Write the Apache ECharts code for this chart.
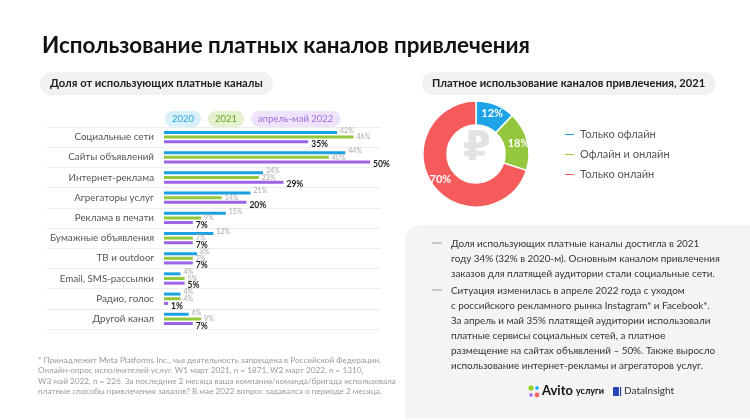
<!DOCTYPE html>
<html><head><meta charset="utf-8">
<script src="https://cdn.jsdelivr.net/npm/echarts@6/dist/echarts.min.js"></script>
<style>html,body{margin:0;padding:0;background:#fff}#c{width:750px;height:420px}</style>
</head><body><div id="c"></div>
<script>
const categories = ['Социальные сети','Сайты объявлений','Интернет-реклама','Агрегаторы услуг','Реклама в печати','Бумажные объявления','ТВ и outdoor','Email, SMS-рассылки','Радио, голос','Другой канал'];
const seriesNames = ['2020','2021','апрель-май 2022'];
const v2020 = [42,44,24,21,15,12,8,4,4,6];
const v2021 = [46,40,23,14,9,7,7,5,4,9];
const v2022 = [35,50,29,20,7,7,7,5,1,7];
const pieNames = ['Только офлайн','Офлайн и онлайн','Только онлайн'];
const pieValues = [12,18,70];

const F = 'Lato, "Noto Sans", sans-serif';
const cBlue='#1ba1e2', cGreen='#93c83e', cPurple='#9d62e6';
const chart = echarts.init(document.getElementById('c'), null, {renderer:'canvas'});

function barSeries(name, data, color, lblStyle){
  return {name, type:'bar', xAxisIndex:0, yAxisIndex:0, data, barWidth:3, barGap:'55%',
    itemStyle:{color}, silent:true,
    label:Object.assign({show:true, position:'right', distance:3, formatter:'{c}%', fontFamily:F}, lblStyle)};
}

const bulletText1 = ['Доля использующих платные каналы достигла в 2021','году 34% (32% в 2020-м). Основным каналом привлечения','заказов для платящей аудитории стали социальные сети.'].join('\n');
const bulletText2 = ['Ситуация изменилась в апреле 2022 года с уходом','с российского рекламного рынка Instagram* и Facebook*.','За апрель и май 35% платящей аудитории использовали','платные сервисы социальных сетей, а платное','размещение на сайтах объявлений – 50%. Также выросло','использование интернет-рекламы и агрегаторов услуг.'].join('\n');
const footnote = ['* Принадлежит Meta Platforms Inc., чья деятельность запрещена в Российской Федерации.','Онлайн-опрос исполнителей услуг. W1 март 2021, n = 1871, W2 март 2022, n = 1310,','W3 май 2022, n = 226. За последние 2 месяца ваша компания/команда/бригада использовала','платные способы привлечения заказов? В мае 2022 вопрос задавался о периоде 2 месяца.'].join('\n');

chart.setOption({
  animation:false,
  textStyle:{fontFamily:F},
  title:[
    {text:'Использование платных каналов привлечения', left:37, top:30,
     textStyle:{fontFamily:F, fontSize:22.4, fontWeight:'bold', color:'#111'}},
    {text:'Доля от использующих платные каналы', left:40, top:72, backgroundColor:'#f1f1f1', borderRadius:12, padding:[6,10],
     textStyle:{fontFamily:F, fontSize:11.2, fontWeight:'bold', color:'#222'}},
    {text:'Платное использование каналов привлечения, 2021', left:422, top:72, backgroundColor:'#f1f1f1', borderRadius:12, padding:[6,10],
     textStyle:{fontFamily:F, fontSize:11.2, fontWeight:'bold', color:'#222'}},
    {text:footnote, left:38, top:355, padding:0,
     textStyle:{fontFamily:F, fontSize:8.2, fontWeight:'normal', color:'#9a9a9a', lineHeight:10.5}}
  ],
  legend:[
    {data:[
      {name:'2020', textStyle:{color:'#2aa6dc', backgroundColor:'#d8f1fc'}},
      {name:'2021', textStyle:{color:'#6ca323', backgroundColor:'#e4f2cf'}},
      {name:'апрель-май 2022', textStyle:{color:'#a070e0', backgroundColor:'#efe2fb'}}],
     icon:'none', itemWidth:0, itemHeight:10, itemGap:2, left:155, top:106, selectedMode:false,
     textStyle:{fontFamily:F, fontSize:9.5, borderRadius:8, padding:[3,7]}},
    {data:pieNames, orient:'vertical', left:558, top:124, icon:'rect', itemWidth:11, itemHeight:3, itemGap:9,
     selectedMode:false, textStyle:{fontFamily:F, fontSize:11, color:'#555'}}
  ],
  grid:[
    {left:164, right:380, top:127, height:202},
    {left:47, right:370, top:127, height:202}
  ],
  xAxis:[
    {gridIndex:0, type:'value', min:0, max:50, show:false},
    {gridIndex:1, type:'value', min:0, max:1, show:false}
  ],
  yAxis:[
    {gridIndex:0, type:'category', data:categories, inverse:true, axisLine:{show:false}, axisTick:{show:false},
     axisLabel:{color:'#555', fontSize:9.8, margin:10, fontFamily:F}, splitLine:{show:false}},
    {gridIndex:1, type:'category', data:categories, inverse:true, axisLine:{show:false}, axisTick:{show:false},
     axisLabel:{show:false}, splitLine:{show:true, lineStyle:{color:'#ededed', width:1}}}
  ],
  series:[
    barSeries(seriesNames[0], v2020, cBlue, {color:'#aaa', fontSize:7, offset:[0,-2]}),
    barSeries(seriesNames[1], v2021, cGreen, {color:'#aaa', fontSize:7, offset:[0,0]}),
    barSeries(seriesNames[2], v2022, cPurple, {color:'#1a1a1a', fontSize:8.5, fontWeight:'bold', offset:[0,2.5]}),
    {type:'pie', center:[476,154], radius:[29,53], startAngle:90, clockwise:true, silent:true,
     data:pieNames.map((n,i)=>({name:n, value:pieValues[i]})),
     color:['#1ea3e6','#93c83e','#f65b5b'],
     itemStyle:{borderColor:'#fff', borderWidth:1.5},
     label:{show:true, position:'inside', formatter:'{c}%', color:'#fff', fontSize:11, fontWeight:'bold', fontFamily:F},
     labelLine:{show:false}}
  ],
  graphic:[
    {type:'text', left:476-13, top:154-24, z:10, style:{text:'₽', font:'bold 40px "DejaVu Sans"', fill:'#e2e2e2'}},
    {type:'rect', left:405, top:225, z:-1, shape:{width:345, height:193, r:[16,0,0,0]}, style:{fill:'#f4f4f4'}},
    {type:'rect', left:432, top:242, shape:{width:10, height:2}, style:{fill:'#c8c8c8'}},
    {type:'rect', left:432, top:289, shape:{width:10, height:2}, style:{fill:'#c8c8c8'}},
    {type:'text', left:451, top:236, style:{text:bulletText1, font:'9.9px '+F, fill:'#333', lineHeight:15}},
    {type:'text', left:451, top:283, style:{text:bulletText2, font:'9.9px '+F, fill:'#333', lineHeight:15}},
    {type:'circle', shape:{cx:531, cy:388, r:2.6}, style:{fill:'#97cf26'}},
    {type:'circle', shape:{cx:537, cy:388, r:1.8}, style:{fill:'#00aaff'}},
    {type:'circle', shape:{cx:531, cy:395, r:1.8}, style:{fill:'#a169f7'}},
    {type:'circle', shape:{cx:537, cy:395, r:2.4}, style:{fill:'#ff6163'}},
    {type:'text', left:542, top:384, style:{text:'Avito', font:'bold 13px '+F, fill:'#111'}},
    {type:'text', left:576, top:387, style:{text:'услуги', font:'bold 9px '+F, fill:'#111'}},
    {type:'rect', left:613, top:387, shape:{width:6, height:9, r:1}, style:{fill:'#2747b8'}},
    {type:'rect', left:620, top:387, shape:{width:1.2, height:9}, style:{fill:'#2747b8'}},
    {type:'text', left:624, top:386, style:{text:'DataInsight', font:'10px '+F, fill:'#333'}}
  ]
});
</script></body></html>
